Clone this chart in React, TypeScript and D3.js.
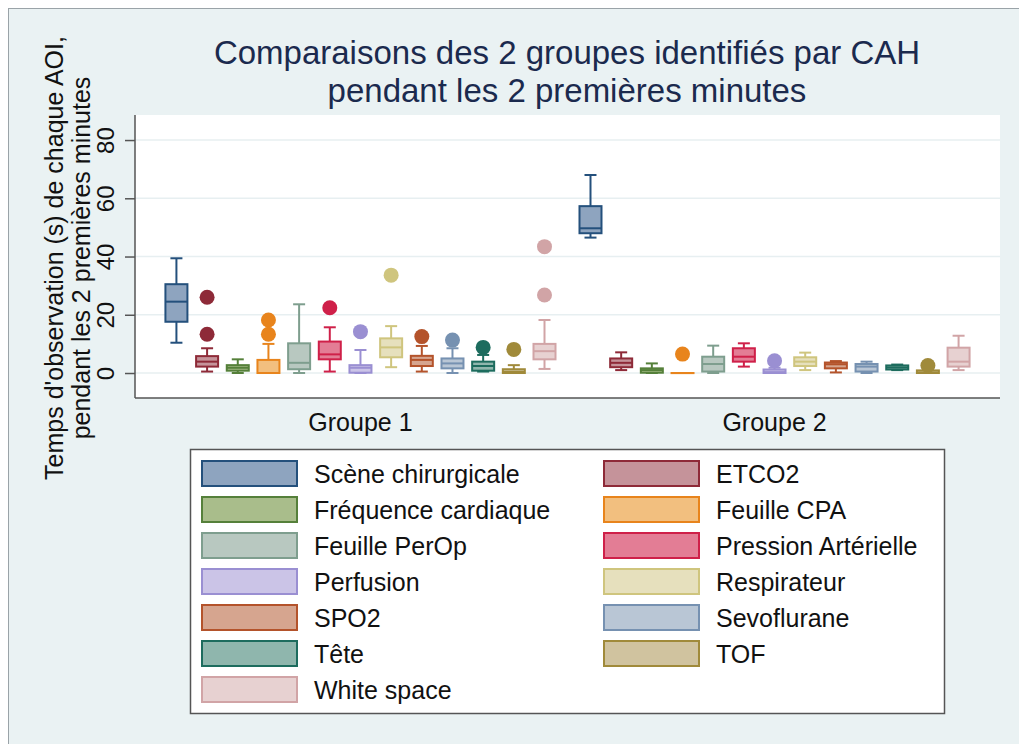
import { useEffect, useRef } from 'react';
import * as d3 from 'd3';

const GROUPS = ['Groupe 1', 'Groupe 2'];
const CATEGORIES = [
  'Scène chirurgicale', 'ETCO2', 'Fréquence cardiaque', 'Feuille CPA', 'Feuille PerOp',
  'Pression Artérielle', 'Perfusion', 'Respirateur', 'SPO2', 'Sevoflurane', 'Tête', 'TOF', 'White space',
];
const STROKES = [
  '#24507c', '#8e2a38', '#55803a', '#e8841c', '#7e9e8e', '#cf2049', '#9a8fd2',
  '#cfc57e', '#b4532b', '#7691b1', '#1d6c5e', '#a08a3a', '#d1a4a6',
];
const FILLS = [
  '#8ea4bf', '#c5939a', '#a9bd8b', '#f2bf7f', '#b8c8c0', '#e37d95', '#cbc4e7',
  '#e6e0bd', '#d6a58f', '#b9c6d5', '#8fb6ad', '#d0c39f', '#e7d1d1',
];
// [lower whisker, q1, median, q3, upper whisker]
const G1_STATS = [
  [10.4, 17.6, 24.5, 30.5, 39.4], [0.5, 2.2, 3.9, 5.8, 8.5], [0, 0.8, 1.8, 2.7, 4.7],
  [0, 0, 0, 4.5, 10], [0, 1.3, 3.5, 10.2, 23.6], [0.5, 4.7, 6.4, 10.8, 15.7],
  [0, 0.1, 1.8, 2.7, 7.9], [2.0, 5.4, 8.8, 11.9, 16.1], [0.5, 2.4, 4.5, 5.9, 9.3],
  [0, 1.6, 3.3, 5.0, 8.5], [0.5, 0.8, 2.4, 3.9, 6.2], [0, 0, 0.4, 1.3, 2.7],
  [1.4, 4.7, 7.5, 10, 18.2],
];
const G2_STATS = [
  [46.5, 48, 49.7, 57.3, 68], [1.0, 2.0, 3.5, 5.0, 7.1], [0, 0.1, 1.0, 1.6, 3.3],
  [0, 0, 0, 0, 0], [0, 0.5, 3.1, 5.6, 9.4], [2.2, 3.9, 5.6, 8.5, 10.2],
  [0, 0, 0.3, 1.2, 1.8], [1.0, 2.4, 3.9, 5.4, 7.0], [0.2, 1.6, 3.0, 3.6, 4.1],
  [0, 0.5, 2.2, 3.1, 3.9], [1.0, 1.2, 1.9, 2.6, 2.9], [0, 0, 0.2, 0.9, 1.4],
  [1.0, 2.2, 3.9, 8.7, 12.8],
];
const G1_OUTLIERS = [[], [26, 13.3], [], [18.2, 13.3], [], [22.4], [14.2], [33.6], [12.5], [11.3], [8.8], [8.1], [43.4, 26.8]];
const G2_OUTLIERS = [[], [], [], [6.5], [], [], [4.2], [], [], [], [], [2.6], []];
const Y_TICKS = [0, 20, 40, 60, 80];

const FONT = '"Liberation Sans", Arial, Helvetica, sans-serif';

export default function App() {
  const svgRef = useRef<SVGSVGElement>(null);

  useEffect(() => {
    document.body.style.margin = '0';
    const svg = d3.select(svgRef.current);
    svg.selectAll('*').remove();
    const width = 1019, height = 744;
    const plot = { left: 135, right: 1000, top: 115, bottom: 398 };

    // Background frame
    svg.append('rect').attr('x', 8.5).attr('y', 8.5).attr('width', width).attr('height', height)
      .attr('fill', '#eaf2f3').attr('stroke', '#9aa3a8');
    svg.append('rect').attr('x', plot.left).attr('y', plot.top)
      .attr('width', plot.right - plot.left).attr('height', plot.bottom - plot.top).attr('fill', '#fff');

    const y = d3.scaleLinear().domain([-8.58, 88.6]).range([plot.bottom, plot.top]);
    const x0 = d3.scaleBand<string>().domain(GROUPS).range([plot.left, plot.right])
      .paddingInner(0.037).paddingOuter(0.063);
    const x1 = d3.scaleBand<string>().domain(CATEGORIES).range([0, x0.bandwidth()]);
    const boxW = 22;
    const capW = 12;

    // Gridlines
    svg.append('g').selectAll('line').data(Y_TICKS).join('line')
      .attr('x1', plot.left).attr('x2', plot.right)
      .attr('y1', (d) => y(d)).attr('y2', (d) => y(d))
      .attr('stroke', '#e7eff1').attr('stroke-width', 1.5);

    // Title
    svg.append('text').attr('x', 567).attr('y', 64).attr('text-anchor', 'middle')
      .attr('font-family', FONT).attr('font-size', 33).attr('fill', '#1b2a4e')
      .text('Comparaisons des 2 groupes identifiés par CAH');
    svg.append('text').attr('x', 567).attr('y', 102).attr('text-anchor', 'middle')
      .attr('font-family', FONT).attr('font-size', 33).attr('fill', '#1b2a4e')
      .text('pendant les 2 premières minutes');

    // Y axis title
    const yt = svg.append('text').attr('transform', 'translate(63,258) rotate(-90)')
      .attr('text-anchor', 'middle').attr('font-family', FONT).attr('font-size', 25).attr('fill', '#111');
    yt.append('tspan').attr('x', 0).attr('dy', 0).text("Temps d'observation (s) de chaque AOI,");
    yt.append('tspan').attr('x', 0).attr('dy', 27).text('pendant les 2 premières minutes');

    // Y axis
    const yAxis = svg.append('g').attr('transform', `translate(${plot.left},0)`)
      .call(d3.axisLeft(y).tickValues(Y_TICKS).tickSize(10).tickPadding(0).tickFormat((d) => `${d}`));
    yAxis.select('.domain').attr('stroke', '#555').attr('stroke-width', 1.5)
      .attr('d', `M0,${plot.top}V${plot.bottom}`);
    yAxis.selectAll('.tick line').attr('stroke', '#555').attr('stroke-width', 1.5);
    yAxis.selectAll<SVGTextElement, number>('.tick text')
      .attr('transform', 'translate(-29.5,0) rotate(-90)').attr('x', 0).attr('y', 0)
      .attr('dy', '0.35em').attr('text-anchor', 'middle')
      .attr('font-family', FONT).attr('font-size', 24).attr('fill', '#111');

    // X axis line and group labels
    svg.append('line').attr('x1', plot.left).attr('x2', plot.right)
      .attr('y1', plot.bottom).attr('y2', plot.bottom).attr('stroke', '#555').attr('stroke-width', 1.5);
    svg.append('g').selectAll('text').data(GROUPS).join('text')
      .attr('x', (g) => (x0(g) ?? 0) + x0.bandwidth() / 2).attr('y', 431)
      .attr('text-anchor', 'middle').attr('font-family', FONT).attr('font-size', 25).attr('fill', '#111')
      .text((g) => g);

    // Boxes
    const groupStats = [G1_STATS, G2_STATS];
    const groupOut = [G1_OUTLIERS, G2_OUTLIERS];
    GROUPS.forEach((g, gi) => {
      const gEl = svg.append('g').attr('transform', `translate(${x0(g)},0)`);
      CATEGORIES.forEach((c, ci) => {
        const [lo, q1, med, q3, hi] = groupStats[gi][ci];
        const cx = (x1(c) ?? 0) + x1.bandwidth() / 2;
        const stroke = STROKES[ci];
        const b = gEl.append('g');
        b.append('line').attr('x1', cx).attr('x2', cx).attr('y1', y(hi)).attr('y2', y(q3))
          .attr('stroke', stroke).attr('stroke-width', 2);
        b.append('line').attr('x1', cx).attr('x2', cx).attr('y1', y(q1)).attr('y2', y(lo))
          .attr('stroke', stroke).attr('stroke-width', 2);
        [lo, hi].forEach((v) => b.append('line').attr('x1', cx - capW / 2).attr('x2', cx + capW / 2)
          .attr('y1', y(v)).attr('y2', y(v)).attr('stroke', stroke).attr('stroke-width', 2));
        b.append('rect').attr('x', cx - boxW / 2).attr('width', boxW)
          .attr('y', y(q3)).attr('height', Math.max(0.1, y(q1) - y(q3)))
          .attr('fill', FILLS[ci]).attr('stroke', stroke).attr('stroke-width', 2);
        b.append('line').attr('x1', cx - boxW / 2).attr('x2', cx + boxW / 2)
          .attr('y1', y(med)).attr('y2', y(med)).attr('stroke', stroke).attr('stroke-width', 2);
        b.selectAll('circle').data(groupOut[gi][ci]).join('circle')
          .attr('cx', cx).attr('cy', (v) => y(v)).attr('r', 7.5).attr('fill', stroke);
      });
    });

    // Legend
    const legend = svg.append('g');
    legend.append('rect').attr('x', 190.5).attr('y', 449.5).attr('width', 754).attr('height', 264)
      .attr('fill', '#fff').attr('stroke', '#555').attr('stroke-width', 1.5);
    const colX = [202, 604];
    const item = legend.selectAll('g.item').data(CATEGORIES).join('g').attr('class', 'item')
      .attr('transform', (_, i) => `translate(${colX[i % 2]},${461 + Math.floor(i / 2) * 36})`);
    item.append('rect').attr('width', 95).attr('height', 25)
      .attr('fill', (_, i) => FILLS[i]).attr('stroke', (_, i) => STROKES[i]).attr('stroke-width', 2);
    item.append('text').attr('x', 112).attr('y', 12.5).attr('dy', '0.36em')
      .attr('font-family', FONT).attr('font-size', 25).attr('fill', '#111').text((d) => d);
  }, []);

  return <svg ref={svgRef} width={1019} height={744} style={{ display: 'block' }} />;
}
